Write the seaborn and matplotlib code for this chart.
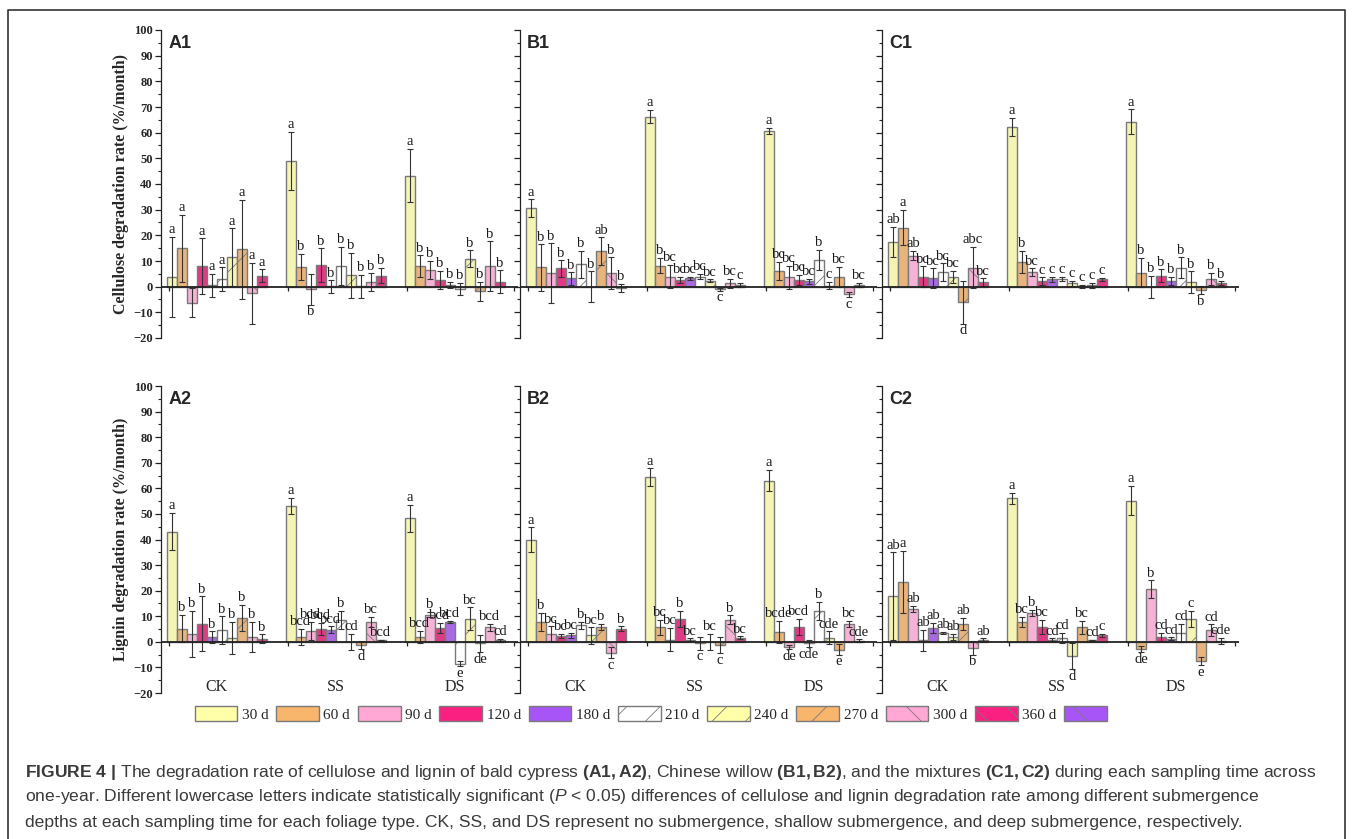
import numpy as np
import pandas as pd
import matplotlib.pyplot as plt
import seaborn as sns
from matplotlib.patches import Patch
from matplotlib.lines import Line2D

groups = ['CK', 'SS', 'DS']
times = ['30 d', '60 d', '90 d', '120 d', '180 d', '210 d', '240 d', '270 d', '300 d', '360 d']

# cellulose, bald cypress
A1_mean = [[3.9, 14.9, -6.2, 8.0, 0.5, 3.0, 11.4, 14.5, -2.6, 4.3],
           [49.0, 7.7, -1.0, 8.3, 0.1, 8.2, 4.4, 0.1, 1.8, 4.3],
           [43.2, 8.0, 6.4, 2.6, 0.7, -1.0, 10.8, -1.8, 8.0, 2.0]]
A1_err = [[15.6, 13.0, 5.5, 10.8, 4.4, 4.5, 11.3, 19.3, 12.0, 2.5],
          [11.2, 5.0, 6.0, 6.6, 2.4, 7.4, 8.7, 4.5, 3.4, 2.9],
          [10.4, 4.2, 3.6, 3.6, 1.1, 2.4, 3.3, 3.8, 9.6, 4.4]]
A1_lab = [['a', 'a', '', 'a', 'a', 'a', 'a', 'a', 'a', 'a'],
          ['a', 'b', 'b', 'b', 'b', 'b', 'b', 'b', 'b', 'b'],
          ['a', 'b', 'b', 'b', 'b', 'b', 'b', 'b', 'b', 'b']]

# cellulose, Chinese willow
B1_mean = [[30.5, 7.5, 5.2, 7.1, 3.2, 8.7, 0.0, 13.9, 5.2, -0.4],
           [66.2, 8.2, 3.9, 2.6, 3.2, 3.9, 2.3, -1.0, 1.3, 0.6],
           [60.6, 6.2, 3.6, 2.6, 2.1, 10.4, 0.4, 3.9, -3.0, 0.6]]
B1_err = [[3.5, 9.0, 11.7, 3.2, 2.4, 5.3, 6.0, 5.3, 6.2, 1.5],
          [2.6, 2.9, 4.5, 1.3, 0.5, 1.0, 0.5, 0.5, 1.7, 0.8],
          [1.2, 3.5, 4.6, 2.0, 1.0, 3.9, 1.5, 3.9, 1.0, 0.8]]
B1_lab = [['a', 'b', 'b', 'b', 'b', 'b', 'b', 'ab', 'b', 'b'],
          ['a', 'b', 'bc', 'bc', 'bc', 'bc', 'bc', 'c', 'bc', 'c'],
          ['a', 'bc', 'bc', 'bc', 'bc', 'b', 'c', 'bc', 'c', 'bc']]

# cellulose, mixture
C1_mean = [[17.3, 23.0, 12.1, 3.9, 3.2, 5.6, 3.9, -6.1, 7.4, 1.7],
           [62.3, 9.7, 5.6, 2.2, 2.9, 2.9, 1.3, 0.1, 0.5, 2.9],
           [64.3, 5.5, 0.0, 4.3, 2.2, 7.4, 1.7, -1.3, 3.0, 1.3]]
C1_err = [[5.9, 6.9, 1.8, 4.0, 3.9, 3.5, 2.3, 8.3, 8.1, 1.5],
          [3.6, 4.2, 1.5, 1.4, 1.0, 0.8, 1.0, 0.5, 0.9, 0.6],
          [4.8, 5.8, 4.3, 2.4, 1.5, 4.0, 4.3, 1.5, 2.3, 0.8]]
C1_lab = [['ab', 'a', 'ab', 'bc', 'bc', 'bc', 'bc', 'd', 'abc', 'bc'],
          ['a', 'b', 'bc', 'c', 'c', 'c', 'c', 'c', 'c', 'c'],
          ['a', 'b', 'b', 'b', 'b', 'b', 'b', 'b', 'b', 'b']]

# lignin, bald cypress
A2_mean = [[43.1, 5.2, 3.2, 7.1, 1.9, 4.5, 1.6, 9.4, 1.9, 1.2],
           [53.2, 1.9, 4.2, 5.1, 4.8, 8.7, 0.0, -1.3, 7.8, 0.6],
           [48.3, 1.9, 10.6, 5.5, 7.7, -8.6, 9.1, -0.6, 5.7, 0.6]]
A2_err = [[7.2, 5.3, 9.0, 10.7, 2.2, 5.5, 6.3, 5.0, 5.8, 1.7],
          [3.1, 3.2, 3.5, 2.3, 1.3, 3.5, 3.0, 1.5, 1.9, 0.3],
          [5.2, 2.5, 1.0, 1.9, 0.5, 1.0, 4.4, 3.3, 1.4, 0.5]]
A2_lab = [['a', 'b', 'b', 'b', 'b', 'b', 'b', 'b', 'b', 'b'],
          ['a', 'bcd', 'bcd', 'bcd', 'bcd', 'b', 'cd', 'd', 'bc', 'bcd'],
          ['a', 'bcd', 'b', 'bcd', 'bcd', 'e', 'bc', 'de', 'bcd', 'cd']]

# lignin, Chinese willow
B2_mean = [[39.9, 7.7, 3.2, 2.2, 2.5, 6.5, 2.5, 5.8, -4.3, 5.1],
           [64.3, 5.7, 0.9, 9.0, 0.9, -0.6, 0.0, -1.3, 8.6, 1.6],
           [63.0, 3.9, -2.1, 5.8, -0.6, 12.2, 1.6, -3.0, 7.0, 0.5]]
B2_err = [[4.8, 3.5, 2.9, 0.8, 1.1, 1.3, 3.2, 1.1, 2.2, 1.0],
          [3.5, 3.0, 4.5, 3.2, 0.5, 2.5, 3.0, 3.0, 1.8, 0.5],
          [4.2, 4.4, 0.8, 3.2, 1.5, 3.5, 2.5, 2.0, 1.3, 0.5]]
B2_lab = [['a', 'b', 'bc', 'bc', 'bc', 'b', 'bc', 'b', 'c', 'b'],
          ['a', 'bc', 'bc', 'b', 'bc', 'c', 'bc', 'c', 'b', 'bc'],
          ['a', 'bcde', 'de', 'bcd', 'cde', 'b', 'cde', 'e', 'bc', 'cde']]

# lignin, mixture
C2_mean = [[17.8, 23.4, 12.9, 0.6, 5.5, 3.5, 1.9, 7.1, -2.3, 0.9],
           [56.1, 7.7, 11.3, 5.8, 0.9, 1.6, -5.6, 5.7, 0.6, 2.5],
           [55.2, -2.7, 20.6, 1.9, 1.3, 3.5, 9.0, -7.5, 4.5, 0.3]]
C2_err = [[17.2, 12.2, 1.3, 4.2, 1.9, 0.5, 1.3, 2.3, 2.7, 0.5],
          [2.2, 2.0, 1.3, 2.9, 0.5, 2.0, 5.2, 2.6, 0.3, 0.5],
          [5.7, 1.2, 3.4, 1.5, 0.5, 3.5, 3.2, 1.7, 2.3, 1.3]]
C2_lab = [['ab', 'a', 'ab', 'ab', 'ab', 'ab', 'ab', 'ab', 'b', 'ab'],
          ['a', 'bc', 'b', 'bc', 'cd', 'cd', 'd', 'bc', 'cd', 'c'],
          ['a', 'de', 'b', 'cd', 'cd', 'cd', 'c', 'e', 'cd', 'cde']]

# letters written above the bar although the mean is negative
above_anyway = [('A1', 0, 8), ('A1', 2, 5), ('A1', 2, 7), ('B1', 0, 9)]

fills = ['#FFFFAA', '#F8B56C', '#FFA8D6', '#F92081', '#A855F7',
         '#FFFFFF', '#FFFFAA', '#F8B56C', '#FFA8D6', '#F92081', '#A855F7']
hatches = ['', '', '', '', '', '/', '/', '/', '\\', '\\', '\\']

sns.set_style('white')
plt.rcParams['font.family'] = ['Liberation Serif', 'DejaVu Serif']
plt.rcParams['hatch.color'] = '#333333'
plt.rcParams['hatch.linewidth'] = 0.6
plt.rcParams['mathtext.fontset'] = 'custom'
plt.rcParams['mathtext.rm'] = 'Liberation Sans'
plt.rcParams['mathtext.bf'] = 'Liberation Sans:bold'
plt.rcParams['mathtext.it'] = 'Liberation Sans:italic'

W, H = 1360, 839
fig = plt.figure(figsize=(W / 100, H / 100), dpi=100)

panels = [('A1', A1_mean, A1_err, A1_lab), ('B1', B1_mean, B1_err, B1_lab), ('C1', C1_mean, C1_err, C1_lab),
          ('A2', A2_mean, A2_err, A2_lab), ('B2', B2_mean, B2_err, B2_lab), ('C2', C2_mean, C2_err, C2_lab)]
lefts = [161, 520, 882]
rows = [(30, 338), (386, 693)]
edge = '#7a7a7a'

for k, (name, mean, err, lab) in enumerate(panels):
    r, c = divmod(k, 3)
    top, bot = rows[r]
    ax = fig.add_axes([lefts[c] / W, 1 - bot / H, 357 / W, (bot - top) / H])

    df = pd.DataFrame([(g, t, mean[i][j]) for i, g in enumerate(groups) for j, t in enumerate(times)],
                      columns=['group', 'time', 'rate'])
    sns.barplot(data=df, x='group', y='rate', hue='time', order=groups, hue_order=times,
                palette=fills[:10], errorbar=None, width=0.84, gap=0, dodge=True,
                edgecolor=edge, linewidth=1, legend=False, ax=ax)

    bar_sets = list(ax.containers)
    for j, cont in enumerate(bar_sets):
        for i, p in enumerate(cont.patches):
            p.set_hatch(hatches[j])
            x = p.get_x() + p.get_width() / 2
            m, e = mean[i][j], err[i][j]
            ax.errorbar(x, m, yerr=e, fmt='none', ecolor='#333333', elinewidth=0.8,
                        capsize=2.5, capthick=0.8, zorder=4)
            if not lab[i][j]:
                continue
            if m >= 0 or (name, i, j) in above_anyway:
                ax.annotate(lab[i][j], (x, m + e), xytext=(0, 0.5), textcoords='offset points',
                            ha='center', va='bottom', fontsize=10.5, color='#1a1a1a')
            else:
                ax.annotate(lab[i][j], (x, m - e), xytext=(0, -0.5), textcoords='offset points',
                            ha='center', va='top', fontsize=10.5, color='#1a1a1a')

    ax.axhline(0, color='#222222', lw=1.3, zorder=5)
    ax.vlines([-0.4, 0.6, 1.6, 2.5], -1.8, 0, color='#222222', lw=0.9, zorder=5)
    ax.set_xlim(-0.47, 2.53)
    ax.set_ylim(-20, 100)
    ax.set_yticks(np.arange(-20, 101, 10))
    ax.set_yticks(np.arange(-15, 100, 10), minor=True)
    ax.tick_params(axis='y', which='major', direction='out', length=4, width=0.9, color='#222222',
                   left=True, pad=2)
    ax.tick_params(axis='y', which='minor', direction='out', length=2.5, width=0.8, color='#222222',
                   left=True)
    ax.set_xticks([])
    ax.set_xlabel('')
    for s in ['top', 'right', 'bottom']:
        ax.spines[s].set_visible(False)
    ax.spines['left'].set_color('#222222')
    ax.spines['left'].set_linewidth(0.9)

    if c == 0:
        for t in ax.get_yticklabels():
            t.set_fontweight('bold')
            t.set_fontsize(9)
        ax.set_ylabel('Cellulose degradation rate (%/month)' if r == 0 else 'Lignin degradation rate (%/month)',
                      fontsize=11.5, fontweight='bold', labelpad=3)
    else:
        ax.set_yticklabels([])
        ax.set_ylabel('')

    ax.text(0.02, 0.985, name, transform=ax.transAxes, ha='left', va='top',
            fontsize=13, fontweight='bold', family='Liberation Sans')

    if r == 1:
        for i, g in enumerate(groups):
            ax.text(i, -17.5, g, ha='center', va='center', fontsize=11.5)

handles = [Patch(facecolor=fills[j], edgecolor=edge, hatch=hatches[j], linewidth=1) for j in range(11)]
fig.legend(handles, times + [''], loc='center', bbox_to_anchor=(653 / W, 1 - 714 / H), ncol=11,
           frameon=False, handlelength=2.8, handleheight=1.1, handletextpad=0.3, columnspacing=0.5,
           fontsize=11, borderpad=0)

# outer frame of the figure box
fig.add_artist(Line2D([8 / W, 8 / W, 1345 / W, 1345 / W], [0, 1 - 10 / H, 1 - 10 / H, 0],
                      transform=fig.transFigure, color='#333333', lw=1.2))

caption = [r'$\mathbf{FIGURE\ 4\ |}$ The degradation rate of cellulose and lignin of bald cypress $\mathbf{(A1,A2)}$, '
           r'Chinese willow $\mathbf{(B1,B2)}$, and the mixtures $\mathbf{(C1,C2)}$ during each sampling time across',
           r'one-year. Different lowercase letters indicate statistically significant ($\mathit{P}$ < 0.05) differences '
           r'of cellulose and lignin degradation rate among different submergence',
           'depths at each sampling time for each foliage type. CK, SS, and DS represent no submergence, '
           'shallow submergence, and deep submergence, respectively.']
for i, line in enumerate(caption):
    fig.text(25 / W, 1 - (772 + 25 * i) / H, line, ha='left', va='center', fontsize=12.6,
             family='Liberation Sans', color='#3a3a3a')

fig.savefig('out.png', dpi=100)
